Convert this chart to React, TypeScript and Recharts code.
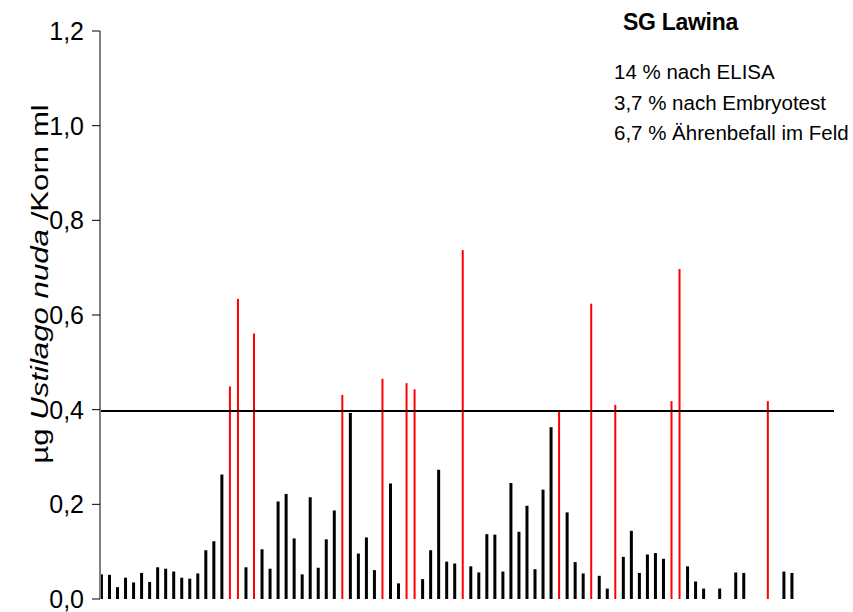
import React from "react";
import { BarChart, Bar, XAxis, YAxis, ReferenceLine } from "recharts";

const values: number[] = [
  0.052, 0.051, 0.025, 0.045, 0.035, 0.055, 0.036, 0.067, 0.064, 0.058,
  0.045, 0.043, 0.054, 0.103, 0.122, 0.263, 0.449, 0.634, 0.067, 0.561,
  0.105, 0.064, 0.206, 0.222, 0.128, 0.052, 0.215, 0.066, 0.126, 0.187,
  0.431, 0.393, 0.096, 0.130, 0.061, 0.465, 0.244, 0.033, 0.456, 0.443,
  0.042, 0.103, 0.273, 0.079, 0.075, 0.737, 0.069, 0.056, 0.137, 0.136,
  0.058, 0.245, 0.142, 0.197, 0.063, 0.231, 0.363, 0.398, 0.183, 0.078,
  0.054, 0.624, 0.049, 0.022, 0.410, 0.089, 0.144, 0.055, 0.094, 0.097,
  0.085, 0.418, 0.697, 0.069, 0.037, 0.022, 0, 0.022, 0, 0.056,
  0.055, 0, 0, 0.418, 0, 0.058, 0.055,
];

// 1-based sample numbers above the threshold (drawn in red)
const redSamples: number[] = [17, 18, 20, 31, 36, 39, 40, 46, 58, 62, 65, 72, 73, 84];

const yTicks: number[] = [0, 0.2, 0.4, 0.6, 0.8, 1.0, 1.2];
const threshold = 0.397;

const title = "SG Lawina";
const notes: string[] = [
  "14 % nach ELISA",
  "3,7 % nach Embryotest",
  "6,7 % Ährenbefall im Feld",
];

const data = values.map((v, i) => {
  const red = redSamples.includes(i + 1);
  return { x: i, black: red ? 0 : v, red: red ? v : 0 };
});

const FONT = "'Liberation Sans', Arial, sans-serif";

const RedShape = (props: any) => {
  const { x, y, width, height } = props;
  if (!height || height <= 0) return null;
  const cx = x + width / 2;
  return <rect x={cx - 1} y={y} width={2} height={height} fill="#ff0000" />;
};

const BlackShape = (props: any) => {
  const { x, y, width, height } = props;
  if (!height || height <= 0) return null;
  const cx = x + width / 2;
  return <rect x={cx - 1.5} y={y} width={3} height={height} fill="#000000" />;
};

export default function App() {
  return (
    <div style={{ position: "absolute", left: 0, top: 0, width: 853, height: 612, background: "#fff" }}>
      <BarChart
        width={853}
        height={612}
        data={data}
        margin={{ top: 31, right: 19, bottom: 13, left: 40 }}
        barGap={0}
      >
        <XAxis
          dataKey="x"
          type="number"
          domain={[-0.12, 91.3]}
          tick={false}
          tickLine={false}
          height={0}
          axisLine={{ stroke: "#000", strokeWidth: 3 }}
        />
        <YAxis
          type="number"
          domain={[0, 1.2]}
          ticks={yTicks}
          interval={0}
          width={60}
          tickSize={8}
          tickMargin={8}
          axisLine={{ stroke: "#808080", strokeWidth: 2 }}
          tickLine={{ stroke: "#000", strokeWidth: 1 }}
          tick={{ fill: "#000", fontSize: 25, fontFamily: FONT }}
          tickFormatter={(v: number) => v.toFixed(1).replace(".", ",")}
        />
        <ReferenceLine y={threshold} stroke="#000" strokeWidth={2} />
        <Bar dataKey="black" stackId="s" barSize={3} shape={BlackShape} isAnimationActive={false} />
        <Bar dataKey="red" stackId="s" barSize={3} shape={RedShape} isAnimationActive={false} />
      </BarChart>
      <div
        style={{
          position: "absolute",
          left: 40,
          top: 284,
          transform: "translate(-50%, -50%) rotate(-90deg) scaleX(1.3)",
          whiteSpace: "nowrap",
          fontFamily: FONT,
          fontSize: 24,
          color: "#000",
        }}
      >
        µg <i>Ustilago nuda</i> /Korn ml
      </div>
      <div
        style={{
          position: "absolute",
          left: 623,
          top: 8,
          fontFamily: FONT,
          fontSize: 23,
          fontWeight: "bold",
          letterSpacing: -0.3,
          color: "#000",
          whiteSpace: "nowrap",
          lineHeight: "28px",
        }}
      >
        {title}
      </div>
      {notes.map((n, i) => (
        <div
          key={n}
          style={{
            position: "absolute",
            left: 614,
            top: 60 + i * 30.5,
            fontFamily: FONT,
            fontSize: 20.5,
            letterSpacing: 0,
            color: "#000",
            whiteSpace: "nowrap",
            lineHeight: "24px",
          }}
        >
          {n}
        </div>
      ))}
    </div>
  );
}
